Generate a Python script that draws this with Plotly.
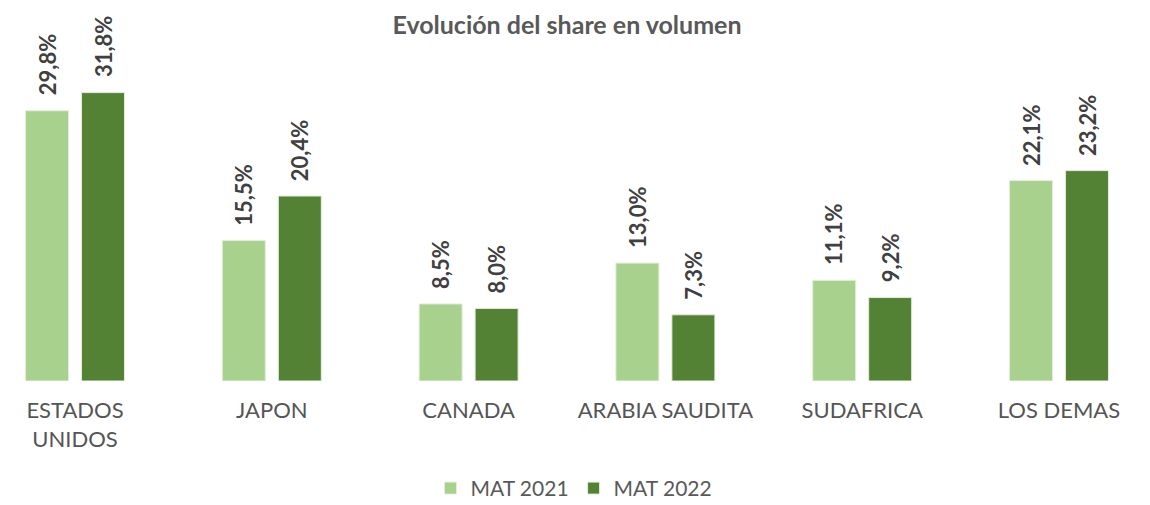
import plotly.graph_objects as go

categories = ["ESTADOS<br>UNIDOS", "JAPON", "CANADA", "ARABIA SAUDITA", "SUDAFRICA", "LOS DEMAS"]
mat_2021 = [29.8, 15.5, 8.5, 13.0, 11.1, 22.1]
mat_2022 = [31.8, 20.4, 8.0, 7.3, 9.2, 23.2]
series_names = ["MAT 2021", "MAT 2022"]
colors = ["#A9D18E", "#548235"]

FONT = "Lato"

def fmt(v):
    return f"{v:.1f}".replace(".", ",") + "%"

fig = go.Figure()
for name, vals, col in zip(series_names, [mat_2021, mat_2022], colors):
    fig.add_trace(go.Bar(
        x=categories, y=vals, name=name,
        marker=dict(color=col, line=dict(color="#E2EEDA", width=1)),
        hoverinfo="skip",
    ))

annotations = []
for vals, shift in [(mat_2021, -28), (mat_2022, 28)]:
    for c, v in zip(categories, vals):
        annotations.append(dict(
            x=c, y=v, xref="x", yref="y", text=fmt(v), showarrow=False,
            textangle=-90, xanchor="center", yanchor="bottom",
            xshift=shift, yshift=13,
            font=dict(family=FONT, size=22, color="#404040", weight="bold"),
        ))

fig.update_layout(
    width=1142, height=497,
    paper_bgcolor="white", plot_bgcolor="white",
    margin=dict(l=0, r=0, t=32, b=124, autoexpand=False),
    barmode="group", bargap=0.431, bargroupgap=0.232,
    title=dict(text="Evolución del share en volumen", x=0.4895, xanchor="center",
               y=0.982, yanchor="top",
               font=dict(family=FONT, size=25, color="#595959", weight="bold")),
    xaxis=dict(range=[-0.3405, 5.4625], showgrid=False, showline=False, ticks="",
               automargin=False, ticklabelstandoff=14,
               tickfont=dict(family=FONT, size=22, color="#555555")),
    yaxis=dict(range=[0, 37.6], visible=False, automargin=False),
    legend=dict(orientation="h", x=0.4956, xanchor="center", y=-0.255, yanchor="top",
                font=dict(family=FONT, size=21, color="#595959"), itemwidth=30),
    annotations=annotations,
    showlegend=True,
)

fig.write_html("out.html")
